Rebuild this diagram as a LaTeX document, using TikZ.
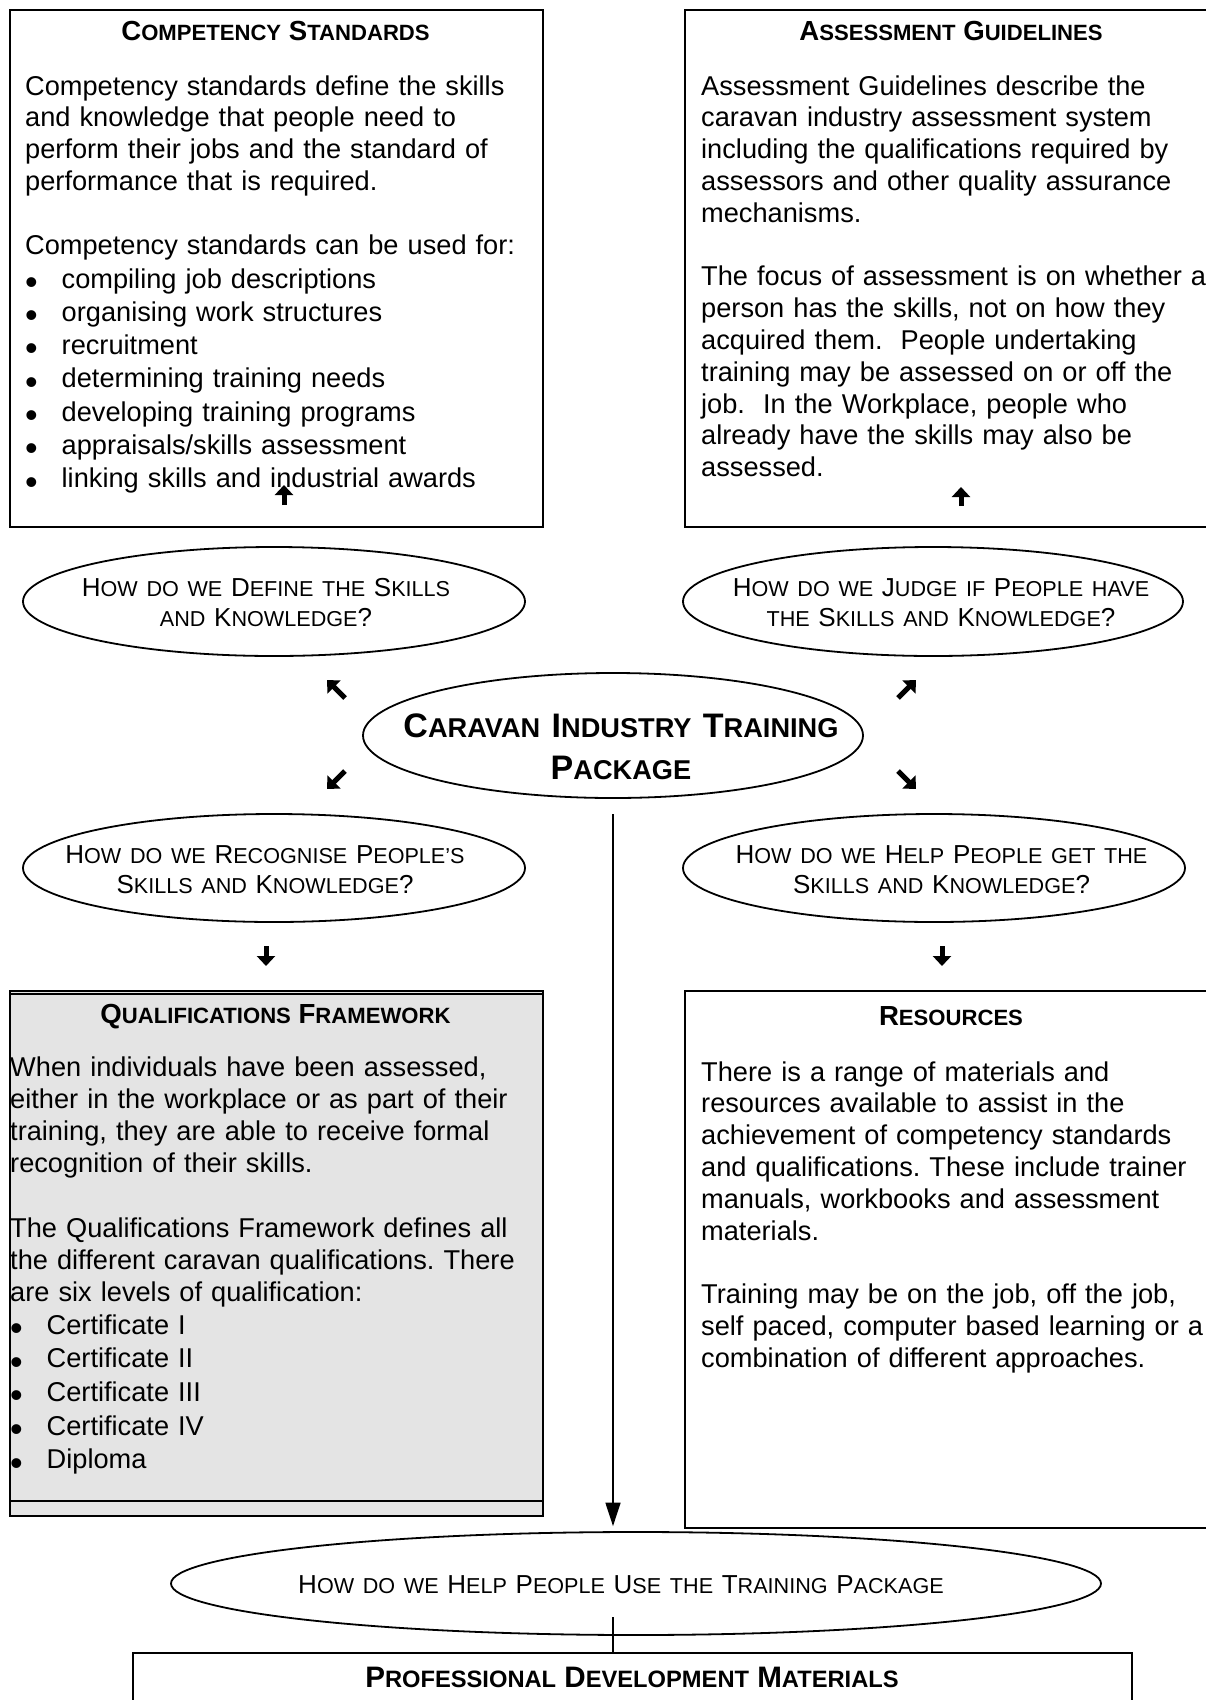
\documentclass[tikz,border=0pt]{standalone}
\usepackage{fontspec}
\setmainfont{Liberation Sans}
\usetikzlibrary{arrows.meta,shapes.geometric}
\frenchspacing

% sizes: one unit of the picture is one point
\newcommand\bodysize{\fontsize{27.2pt}{31.8pt}\selectfont}
\newcommand\qualsize{\fontsize{27.2pt}{32.2pt}\selectfont}
\newcommand\titlesize{\fontsize{27.6pt}{31.8pt}\selectfont}
\newcommand\ovalsize{\fontsize{26pt}{30.4pt}\selectfont}
\newcommand\hubsize{\fontsize{34pt}{42pt}\selectfont}
% hand-made small capitals
\newcommand\sm[1]{{\fontsize{22.1pt}{26pt}\selectfont #1}}
\newcommand\smo[1]{{\fontsize{21.6pt}{26pt}\selectfont #1}}
\newcommand\smb[1]{{\fontsize{27.2pt}{32pt}\selectfont #1}}
\newcommand\smp[1]{{\fontsize{23.7pt}{28pt}\selectfont #1}}
% list bullet, a little larger than the text's own
\newcommand\bul{\makebox[36.5pt][l]{\raisebox{-6.3pt}{\fontsize{36pt}{0pt}\selectfont\textbullet}}}

\definecolor{qualgray}{RGB}{228,228,228}

\begin{document}
\begin{tikzpicture}[x=1pt,y=-1pt,
  box/.style={draw, line width=2pt, anchor=north west, inner sep=0pt},
  oval/.style={draw, ellipse, line width=1.8pt, inner sep=0pt},
  title/.style={anchor=base, inner sep=0pt, font=\titlesize\bfseries},
  para/.style={anchor=base west, inner sep=0pt, text width=520pt, align=left, font=\bodysize},
  blist/.style={anchor=base west, inner sep=0pt, text width=520pt, align=left,
                font=\fontsize{27.2pt}{#1}\selectfont},
  ovaltext/.style={anchor=base, inner sep=0pt, text width=480pt, align=center, font=\ovalsize},
  glyph/.style={line width=5pt, -{Triangle[length=10pt,width=18pt]}},
  feed/.style={line width=1.5pt, -{Triangle[length=23.5pt,width=15pt]}}
]
\useasboundingbox (0,0) rectangle (1206,1700);

% ---------- top boxes ----------
\node[box, minimum width=533pt, minimum height=517pt] (cs) at (9,9) {};
\node[title] (cst) at (275.5,40) {C\sm{OMPETENCY} S\sm{TANDARDS}};
\node[para] (csp) at (25,95) {Competency standards define the skills\\
and knowledge that people need to\\
perform their jobs and the standard of\\
performance that is required.\\[31.8pt]
Competency standards can be used for:};
\node[blist=33.3pt] (csl) at (25,288) {\bul compiling job descriptions\\
\bul organising work structures\\
\bul recruitment\\
\bul determining training needs\\
\bul developing training programs\\
\bul appraisals/skills assessment\\
\bul linking skills and industrial awards};

\node[box, minimum width=534pt, minimum height=517pt] (ag) at (684,9) {};
\node[title] (agt) at (951,40) {A\sm{SSESSMENT} G\sm{UIDELINES}};
\node[para] (agp) at (701,95) {Assessment Guidelines describe the\\
caravan industry assessment system\\
including the qualifications required by\\
assessors and other quality assurance\\
mechanisms.\\[31.8pt]
The focus of assessment is on whether a\\
person has the skills, not on how they\\
acquired them.\ \ People undertaking\\
training may be assessed on or off the\\
job.\ \ In the Workplace, people who\\
already have the skills may also be\\
assessed.};

% arrows pointing up into the top boxes
\coordinate (csa0) at (284,505);
\coordinate (csa1) at (284,485);
\draw[glyph] (csa0) -- (csa1);
\coordinate (aga0) at (961,506);
\coordinate (aga1) at (961,487);
\draw[glyph] (aga0) -- (aga1);

% ---------- question ovals ----------
\node[oval, minimum width=502pt, minimum height=109pt] (def) at (274,601.5) {};
\node[ovaltext] (deft) at (266,596) {H\smo{OW DO WE} D\smo{EFINE THE} S\smo{KILLS}\\
\smo{AND} K\smo{NOWLEDGE}?};

\node[oval, minimum width=500pt, minimum height=109pt] (jud) at (933,601.5) {};
\node[ovaltext] (judt) at (941,596) {H\smo{OW DO WE} J\smo{UDGE IF} P\smo{EOPLE HAVE}\\
\smo{THE} S\smo{KILLS AND} K\smo{NOWLEDGE}?};

\node[oval, minimum width=500pt, minimum height=125pt] (hub) at (613,735.5) {};
\node[ovaltext, font=\hubsize\bfseries] (hubt) at (621,737) {C\smb{ARAVAN} I\smb{NDUSTRY} T\smb{RAINING}\\
P\smb{ACKAGE}};

\node[oval, minimum width=502pt, minimum height=108pt] (rec) at (274,868) {};
\node[ovaltext] (rect) at (265,863) {H\smo{OW DO WE} R\smo{ECOGNISE} P\smo{EOPLE’S}\\
S\smo{KILLS AND} K\smo{NOWLEDGE}?};

\node[oval, minimum width=502pt, minimum height=108pt] (hlp) at (934,868) {};
\node[ovaltext] (hlpt) at (941.5,863) {H\smo{OW DO WE} H\smo{ELP} P\smo{EOPLE GET THE}\\
S\smo{KILLS AND} K\smo{NOWLEDGE}?};

% small arrows around the centre
\coordinate (nw0) at (345,698);
\coordinate (nw1) at (327,680);
\draw[glyph] (nw0) -- (nw1);
\coordinate (ne0) at (898,698);
\coordinate (ne1) at (916,680);
\draw[glyph] (ne0) -- (ne1);
\coordinate (sw0) at (345,771);
\coordinate (sw1) at (327,789);
\draw[glyph] (sw0) -- (sw1);
\coordinate (se0) at (898,771);
\coordinate (se1) at (916,789);
\draw[glyph] (se0) -- (se1);

% arrows pointing down to the lower boxes
\coordinate (qfa0) at (266,946);
\coordinate (qfa1) at (266,966);
\draw[glyph] (qfa0) -- (qfa1);
\coordinate (rsa0) at (942,946);
\coordinate (rsa1) at (942,966);
\draw[glyph] (rsa0) -- (rsa1);

% ---------- lower boxes ----------
\node[box, fill=qualgray, minimum width=533pt, minimum height=525pt] (qf) at (9,990) {};
\draw[line width=1.2pt] (qf.north west) ++(0,4) coordinate (qfi0) -- (qfi0 -| qf.east);
\draw[line width=2pt] (qf.south west) ++(0,-16) coordinate (qfi1) -- (qfi1 -| qf.east);
\node[title] (qft) at (275.5,1023) {Q\sm{UALIFICATIONS} F\sm{RAMEWORK}};
\node[para, font=\qualsize] (qfp) at (10,1076) {When individuals have been assessed,\\
either in the workplace or as part of their\\
training, they are able to receive formal\\
recognition of their skills.\\[32.2pt]
The Qualifications Framework defines all\\
the different caravan qualifications. There\\
are six levels of qualification:};
\node[blist=33.7pt] (qfl) at (10,1334) {\bul Certificate I\\
\bul Certificate II\\
\bul Certificate III\\
\bul Certificate IV\\
\bul Diploma};

\node[box, minimum width=534pt, minimum height=537pt] (rs) at (684,990) {};
\node[title] (rst) at (951,1025) {R\sm{ESOURCES}};
\node[para] (rsp) at (701,1081) {There is a range of materials and\\
resources available to assist in the\\
achievement of competency standards\\
and qualifications. These include trainer\\
manuals, workbooks and assessment\\
materials.\\[31.8pt]
Training may be on the job, off the job,\\
self paced, computer based learning or a\\
combination of different approaches.};

% ---------- bottom ----------
\node[oval, minimum width=930pt, minimum height=103pt] (use) at (636,1583.5) {};
\node[ovaltext, text width=900pt] (uset) at (621,1593) {H\smo{OW DO WE} H\smo{ELP} P\smo{EOPLE} U\smo{SE THE} T\smo{RAINING} P\smo{ACKAGE}};

\coordinate (vtop) at (613,814);
\draw[feed] (vtop) -- ([yshift=5pt]vtop |- use.north);

\node[box, minimum width=999pt, minimum height=80pt] (pd) at (132,1652) {};
\node[title, font=\fontsize{29.6pt}{34pt}\selectfont\bfseries] (pdt) at (632,1687) {P\smp{ROFESSIONAL} D\smp{EVELOPMENT} M\smp{ATERIALS}};

\coordinate (vbot) at (613,1617);
\draw[line width=1.5pt] (vbot) -- (vbot |- pd.north);
\end{tikzpicture}
\end{document}
